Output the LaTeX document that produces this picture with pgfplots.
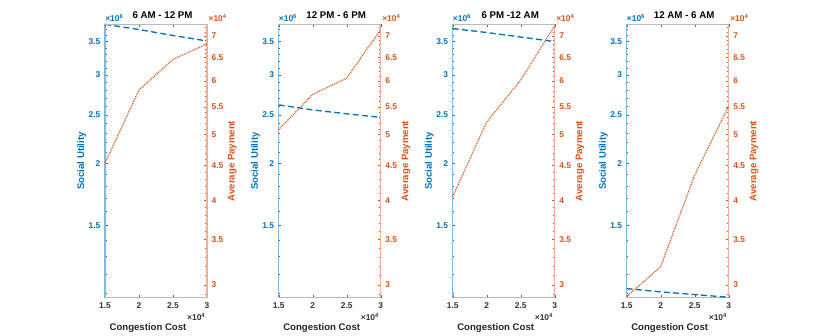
\documentclass[border=0pt]{standalone}
\usepackage{pgfplots}
\pgfplotsset{compat=1.18}
\usepackage{fontspec}
\setmainfont{Liberation Sans}
\definecolor{mblue}{RGB}{0,114,189}
\definecolor{morange}{RGB}{217,83,25}
\newcommand{\tf}{\bfseries\fontsize{6.3}{7}\selectfont}
\newcommand{\lf}{\bfseries\fontsize{7.2}{8}\selectfont}

\begin{document}
\begin{tikzpicture}
\useasboundingbox (0,0) rectangle (622.5pt,251.25pt);

% ---------- 6 AM - 12 PM ----------
\begin{axis}[
    at={(78.75pt,28pt)}, ymode=log,
    scale only axis, width=76.5pt, height=205pt, clip=false,
    xmin=1.5, xmax=3, ymin=1.076, ymax=3.79,
    axis x line*=bottom, axis y line*=left,
    tick align=inside, major tick length=2pt, minor tick length=1.2pt,
    ytick={1.5,2,2.5,3,3.5}, yticklabels={1.5,2,2.5,3,3.5},
    minor ytick={1.1,1.2,1.3,1.4,1.6,1.7,1.8,1.9,2.1,2.2,2.3,2.4,2.6,2.7,2.8,2.9,3.1,3.2,3.3,3.4,3.6,3.7},
    xtick={1.5,2,2.5,3}, xticklabels={1.5,2,2.5,3},
    x axis line style={gray!55, line width=1.1pt},
    y axis line style={mblue!50, line width=0.8pt},
    y tick style={mblue}, x tick style={black!60},
    yticklabel style={mblue, font=\tf},
    xticklabel style={black!80, font=\tf},
    ylabel={Social Utility},
    ylabel style={mblue, font=\lf, at={(rel axis cs:0,0.5)}, anchor=center, rotate=0, yshift=17.5pt},
    xlabel={Congestion Cost},
    xlabel style={black!85, font=\lf, at={(rel axis cs:0.5,0)}, anchor=center, xshift=-6pt, yshift=-22.5pt},
    title={6 AM - 12 PM},
    title style={font=\bfseries\fontsize{7.3}{9}\selectfont, anchor=base, yshift=-2pt, xshift=4.9pt},
  ]
  \addplot[mblue, line width=1pt, dash pattern=on 4.5pt off 2.5pt] coordinates {(1.5,3.79) (2,3.70) (2.5,3.60) (3,3.51)};
  \node[mblue, anchor=base west, inner sep=0, font=\tf] at (rel axis cs:0,1) [yshift=2pt] {×10\textsuperscript{6}};
  \node[black!80, anchor=east, inner sep=0, font=\tf] at (rel axis cs:1,0) [yshift=-14.5pt, xshift=-1pt] {×10\textsuperscript{4}};
\end{axis}
\begin{axis}[
    at={(78.75pt,28pt)}, ymode=log,
    scale only axis, width=76.5pt, height=205pt, clip=false,
    xmin=1.5, xmax=3, ymin=2.87, ymax=7.28,
    axis x line*=top, axis y line*=right,
    tick align=inside, major tick length=2pt, minor tick length=1.2pt,
    xtick={1.5,2,2.5,3}, xticklabels={},
    ytick={3,3.5,4,4.5,5,5.5,6,6.5,7}, yticklabels={3,3.5,4,4.5,5,5.5,6,6.5,7},
    minor ytick={2.9,3.1,3.2,3.3,3.4,3.6,3.7,3.8,3.9,4.1,4.2,4.3,4.4,4.6,4.7,4.8,4.9,5.1,5.2,5.3,5.4,5.6,5.7,5.8,5.9,6.1,6.2,6.3,6.4,6.6,6.7,6.8,6.9,7.1,7.2},
    x axis line style={gray!55, line width=0.6pt},
    y axis line style={morange!45, line width=0.8pt},
    y tick style={morange}, x tick style={black!60},
    yticklabel style={morange, font=\tf},
  ]
  \addplot[morange, line width=0.9pt, dash pattern=on 0.7pt off 0.7pt] coordinates {(1.5,4.54) (2,5.82) (2.5,6.46) (3,6.81)};
  \node[morange, anchor=base west, inner sep=0, font=\tf] at (rel axis cs:1,1) [yshift=2.2pt, xshift=1pt] {×10\textsuperscript{4}};
  \node[morange, font=\lf, anchor=center, rotate=90] at (rel axis cs:1,0.5) [yshift=-19pt] {Average Payment};
\end{axis}

% ---------- 12 PM - 6 PM ----------
\begin{axis}[
    at={(209pt,28pt)}, ymode=log,
    scale only axis, width=76.5pt, height=205pt, clip=false,
    xmin=1.5, xmax=3, ymin=1.076, ymax=3.79,
    axis x line*=bottom, axis y line*=left,
    tick align=inside, major tick length=2pt, minor tick length=1.2pt,
    ytick={1.5,2,2.5,3,3.5}, yticklabels={1.5,2,2.5,3,3.5},
    minor ytick={1.1,1.2,1.3,1.4,1.6,1.7,1.8,1.9,2.1,2.2,2.3,2.4,2.6,2.7,2.8,2.9,3.1,3.2,3.3,3.4,3.6,3.7},
    xtick={1.5,2,2.5,3}, xticklabels={1.5,2,2.5,3},
    x axis line style={gray!55, line width=1.1pt},
    y axis line style={mblue!50, line width=0.8pt},
    y tick style={mblue}, x tick style={black!60},
    yticklabel style={mblue, font=\tf},
    xticklabel style={black!80, font=\tf},
    ylabel={Social Utility},
    ylabel style={mblue, font=\lf, at={(rel axis cs:0,0.5)}, anchor=center, rotate=0, yshift=17.5pt},
    xlabel={Congestion Cost},
    xlabel style={black!85, font=\lf, at={(rel axis cs:0.5,0)}, anchor=center, xshift=-6pt, yshift=-22.5pt},
    title={12 PM - 6 PM},
    title style={font=\bfseries\fontsize{7.3}{9}\selectfont, anchor=base, yshift=-2pt, xshift=4.9pt},
  ]
  \addplot[mblue, line width=1pt, dash pattern=on 4.5pt off 2.5pt] coordinates {(1.5,2.615) (2,2.555) (2.5,2.51) (3,2.469)};
  \node[mblue, anchor=base west, inner sep=0, font=\tf] at (rel axis cs:0,1) [yshift=2pt] {×10\textsuperscript{6}};
  \node[black!80, anchor=east, inner sep=0, font=\tf] at (rel axis cs:1,0) [yshift=-14.5pt, xshift=-1pt] {×10\textsuperscript{4}};
\end{axis}
\begin{axis}[
    at={(209pt,28pt)}, ymode=log,
    scale only axis, width=76.5pt, height=205pt, clip=false,
    xmin=1.5, xmax=3, ymin=2.87, ymax=7.28,
    axis x line*=top, axis y line*=right,
    tick align=inside, major tick length=2pt, minor tick length=1.2pt,
    xtick={1.5,2,2.5,3}, xticklabels={},
    ytick={3,3.5,4,4.5,5,5.5,6,6.5,7}, yticklabels={3,3.5,4,4.5,5,5.5,6,6.5,7},
    minor ytick={2.9,3.1,3.2,3.3,3.4,3.6,3.7,3.8,3.9,4.1,4.2,4.3,4.4,4.6,4.7,4.8,4.9,5.1,5.2,5.3,5.4,5.6,5.7,5.8,5.9,6.1,6.2,6.3,6.4,6.6,6.7,6.8,6.9,7.1,7.2},
    x axis line style={gray!55, line width=0.6pt},
    y axis line style={morange!45, line width=0.8pt},
    y tick style={morange}, x tick style={black!60},
    yticklabel style={morange, font=\tf},
  ]
  \addplot[morange, line width=0.9pt, dash pattern=on 0.7pt off 0.7pt] coordinates {(1.5,5.085) (2,5.735) (2.5,6.06) (3,7.15)};
  \node[morange, anchor=base west, inner sep=0, font=\tf] at (rel axis cs:1,1) [yshift=2.2pt, xshift=1pt] {×10\textsuperscript{4}};
  \node[morange, font=\lf, anchor=center, rotate=90] at (rel axis cs:1,0.5) [yshift=-19pt] {Average Payment};
\end{axis}

% ---------- 6 PM - 12 AM ----------
\begin{axis}[
    at={(339.5pt,28pt)}, ymode=log,
    scale only axis, width=76.5pt, height=205pt, clip=false,
    xmin=1.5, xmax=3, ymin=1.076, ymax=3.79,
    axis x line*=bottom, axis y line*=left,
    tick align=inside, major tick length=2pt, minor tick length=1.2pt,
    ytick={1.5,2,2.5,3,3.5}, yticklabels={1.5,2,2.5,3,3.5},
    minor ytick={1.1,1.2,1.3,1.4,1.6,1.7,1.8,1.9,2.1,2.2,2.3,2.4,2.6,2.7,2.8,2.9,3.1,3.2,3.3,3.4,3.6,3.7},
    xtick={1.5,2,2.5,3}, xticklabels={1.5,2,2.5,3},
    x axis line style={gray!55, line width=1.1pt},
    y axis line style={mblue!50, line width=0.8pt},
    y tick style={mblue}, x tick style={black!60},
    yticklabel style={mblue, font=\tf},
    xticklabel style={black!80, font=\tf},
    ylabel={Social Utility},
    ylabel style={mblue, font=\lf, at={(rel axis cs:0,0.5)}, anchor=center, rotate=0, yshift=17.5pt},
    xlabel={Congestion Cost},
    xlabel style={black!85, font=\lf, at={(rel axis cs:0.5,0)}, anchor=center, xshift=-6pt, yshift=-22.5pt},
    title={6 PM -12 AM},
    title style={font=\bfseries\fontsize{7.3}{9}\selectfont, anchor=base, yshift=-2pt, xshift=4.9pt},
  ]
  \addplot[mblue, line width=1pt, dash pattern=on 4.5pt off 2.5pt] coordinates {(1.5,3.717) (2,3.65) (2.5,3.575) (3,3.50)};
  \node[mblue, anchor=base west, inner sep=0, font=\tf] at (rel axis cs:0,1) [yshift=2pt] {×10\textsuperscript{6}};
  \node[black!80, anchor=east, inner sep=0, font=\tf] at (rel axis cs:1,0) [yshift=-14.5pt, xshift=-1pt] {×10\textsuperscript{4}};
\end{axis}
\begin{axis}[
    at={(339.5pt,28pt)}, ymode=log,
    scale only axis, width=76.5pt, height=205pt, clip=false,
    xmin=1.5, xmax=3, ymin=2.87, ymax=7.28,
    axis x line*=top, axis y line*=right,
    tick align=inside, major tick length=2pt, minor tick length=1.2pt,
    xtick={1.5,2,2.5,3}, xticklabels={},
    ytick={3,3.5,4,4.5,5,5.5,6,6.5,7}, yticklabels={3,3.5,4,4.5,5,5.5,6,6.5,7},
    minor ytick={2.9,3.1,3.2,3.3,3.4,3.6,3.7,3.8,3.9,4.1,4.2,4.3,4.4,4.6,4.7,4.8,4.9,5.1,5.2,5.3,5.4,5.6,5.7,5.8,5.9,6.1,6.2,6.3,6.4,6.6,6.7,6.8,6.9,7.1,7.2},
    x axis line style={gray!55, line width=0.6pt},
    y axis line style={morange!45, line width=0.8pt},
    y tick style={morange}, x tick style={black!60},
    yticklabel style={morange, font=\tf},
  ]
  \addplot[morange, line width=0.9pt, dash pattern=on 0.7pt off 0.7pt] coordinates {(1.5,4.047) (2,5.22) (2.5,6.02) (3,7.24)};
  \node[morange, anchor=base west, inner sep=0, font=\tf] at (rel axis cs:1,1) [yshift=2.2pt, xshift=1pt] {×10\textsuperscript{4}};
  \node[morange, font=\lf, anchor=center, rotate=90] at (rel axis cs:1,0.5) [yshift=-19pt] {Average Payment};
\end{axis}

% ---------- 12 AM - 6 AM ----------
\begin{axis}[
    at={(470pt,28pt)}, ymode=log,
    scale only axis, width=76.5pt, height=205pt, clip=false,
    xmin=1.5, xmax=3, ymin=1.076, ymax=3.79,
    axis x line*=bottom, axis y line*=left,
    tick align=inside, major tick length=2pt, minor tick length=1.2pt,
    ytick={1.5,2,2.5,3,3.5}, yticklabels={1.5,2,2.5,3,3.5},
    minor ytick={1.1,1.2,1.3,1.4,1.6,1.7,1.8,1.9,2.1,2.2,2.3,2.4,2.6,2.7,2.8,2.9,3.1,3.2,3.3,3.4,3.6,3.7},
    xtick={1.5,2,2.5,3}, xticklabels={1.5,2,2.5,3},
    x axis line style={gray!55, line width=1.1pt},
    y axis line style={mblue!50, line width=0.8pt},
    y tick style={mblue}, x tick style={black!60},
    yticklabel style={mblue, font=\tf},
    xticklabel style={black!80, font=\tf},
    ylabel={Social Utility},
    ylabel style={mblue, font=\lf, at={(rel axis cs:0,0.5)}, anchor=center, rotate=0, yshift=17.5pt},
    xlabel={Congestion Cost},
    xlabel style={black!85, font=\lf, at={(rel axis cs:0.5,0)}, anchor=center, xshift=-6pt, yshift=-22.5pt},
    title={12 AM - 6 AM},
    title style={font=\bfseries\fontsize{7.3}{9}\selectfont, anchor=base, yshift=-2pt, xshift=4.9pt},
  ]
  \addplot[mblue, line width=1pt, dash pattern=on 4.5pt off 2.5pt] coordinates {(1.5,1.122) (2,1.105) (2.5,1.0915) (3,1.078)};
  \node[mblue, anchor=base west, inner sep=0, font=\tf] at (rel axis cs:0,1) [yshift=2pt] {×10\textsuperscript{6}};
  \node[black!80, anchor=east, inner sep=0, font=\tf] at (rel axis cs:1,0) [yshift=-14.5pt, xshift=-1pt] {×10\textsuperscript{4}};
\end{axis}
\begin{axis}[
    at={(470pt,28pt)}, ymode=log,
    scale only axis, width=76.5pt, height=205pt, clip=false,
    xmin=1.5, xmax=3, ymin=2.87, ymax=7.28,
    axis x line*=top, axis y line*=right,
    tick align=inside, major tick length=2pt, minor tick length=1.2pt,
    xtick={1.5,2,2.5,3}, xticklabels={},
    ytick={3,3.5,4,4.5,5,5.5,6,6.5,7}, yticklabels={3,3.5,4,4.5,5,5.5,6,6.5,7},
    minor ytick={2.9,3.1,3.2,3.3,3.4,3.6,3.7,3.8,3.9,4.1,4.2,4.3,4.4,4.6,4.7,4.8,4.9,5.1,5.2,5.3,5.4,5.6,5.7,5.8,5.9,6.1,6.2,6.3,6.4,6.6,6.7,6.8,6.9,7.1,7.2},
    x axis line style={gray!55, line width=0.6pt},
    y axis line style={morange!45, line width=0.8pt},
    y tick style={morange}, x tick style={black!60},
    yticklabel style={morange, font=\tf},
  ]
  \addplot[morange, line width=0.9pt, dash pattern=on 0.7pt off 0.7pt] coordinates {(1.5,2.88) (2,3.19) (2.5,4.357) (3,5.51)};
  \node[morange, anchor=base west, inner sep=0, font=\tf] at (rel axis cs:1,1) [yshift=2.2pt, xshift=1pt] {×10\textsuperscript{4}};
  \node[morange, font=\lf, anchor=center, rotate=90] at (rel axis cs:1,0.5) [yshift=-19pt] {Average Payment};
\end{axis}
\end{tikzpicture}
\end{document}
